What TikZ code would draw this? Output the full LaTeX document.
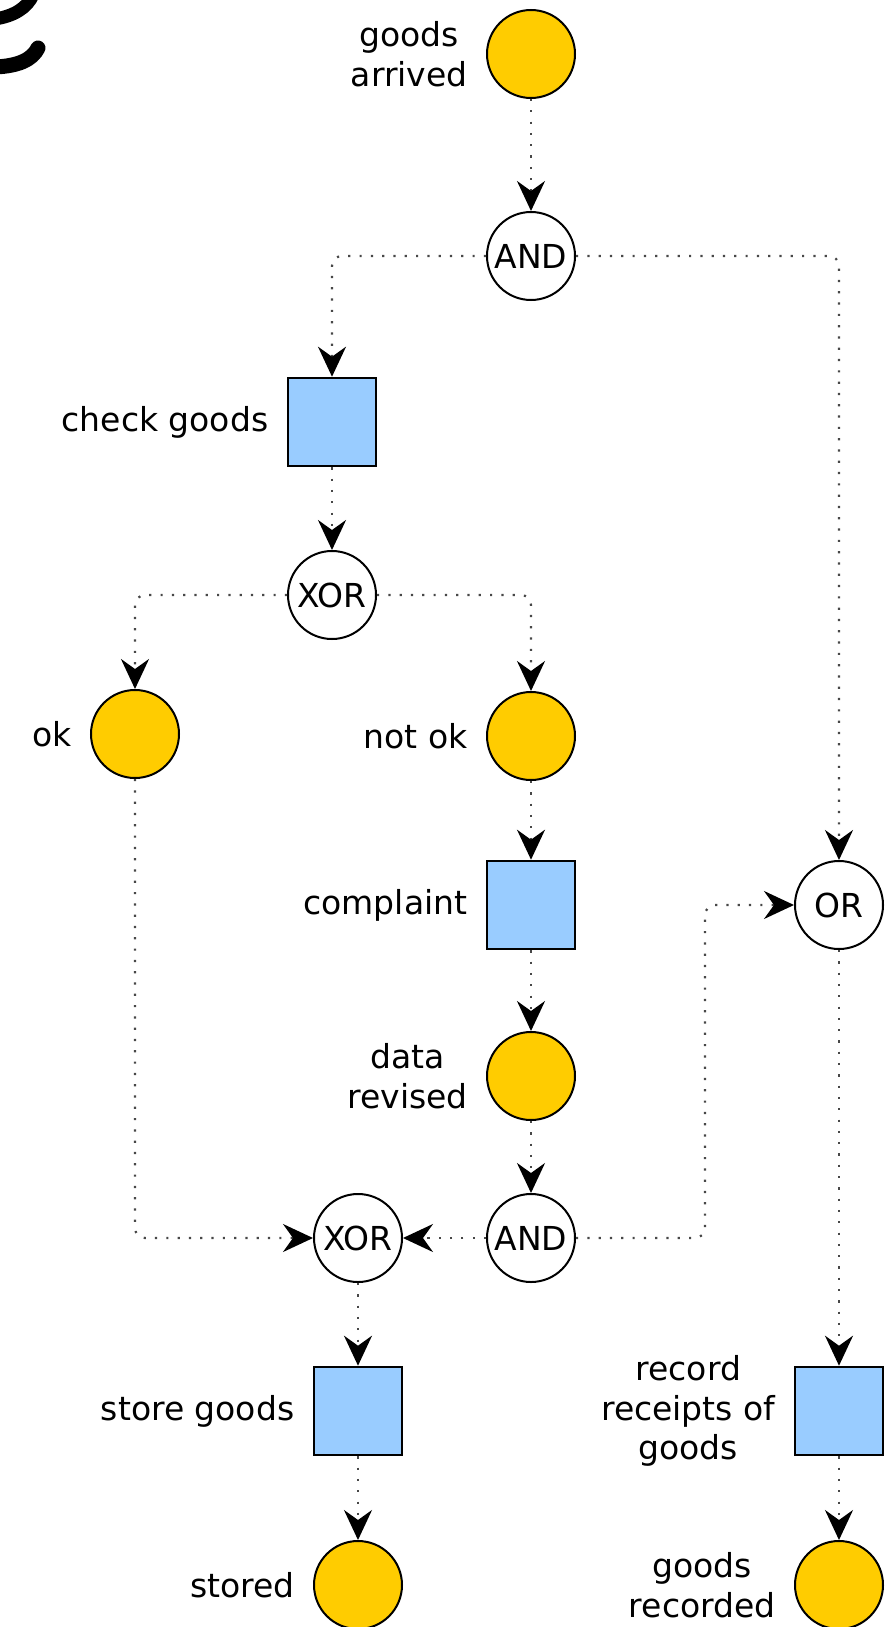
\documentclass[tikz,border=0pt]{standalone}
\usepackage{fontspec}
\setmainfont{DejaVu Sans}
\usepackage{xcolor}
\usetikzlibrary{positioning,arrows.meta}

\definecolor{placefill}{HTML}{FFCC00}
\definecolor{taskfill}{HTML}{99CCFF}

\begin{document}
\begin{tikzpicture}[x=0.5pt,y=-0.5pt,
  font=\fontsize{16.5pt}{19.8pt}\selectfont,
  place/.style={circle,draw=black,line width=1pt,fill=placefill,
                minimum size=44pt,inner sep=0pt},
  task/.style={rectangle,draw=black,line width=1.3pt,fill=taskfill,
               minimum size=44pt,inner sep=0pt},
  gate/.style={circle,draw=black,line width=1pt,fill=white,
               minimum size=44pt,inner sep=0pt},
  lab/.style={align=center,inner sep=0pt},
  flow/.style={draw=black!72,line width=1.1pt,dash pattern=on 1.1pt off 4.55pt,
               rounded corners=5pt,
               -{Stealth[length=15pt,width=14pt,inset=5pt,color=black]}}]

  \useasboundingbox (0,0) rectangle (895,1627);
  \clip (0,0) rectangle (895,1627);

  % ---------- pen stroke, cut at the corner ----------
  \draw[line width=6.5pt,line cap=round]
    (33,-5) .. controls (27,8) and (14,16) .. (-5,19);
  \draw[line width=7.5pt,line cap=round]
    (38,48) .. controls (32,60) and (18,66) .. (-5,67);

  % ---------- places ----------
  \node[place] (arrived)  at (531,54)   {};
  \node[place] (ok)       at (135,734)  {};
  \node[place] (notok)    at (531,736)  {};
  \node[place] (revised)  at (531,1076) {};
  \node[place] (stored)   at (358,1585) {};
  \node[place] (recorded) at (839,1585) {};

  % ---------- tasks ----------
  \node[task] (check)     at (332,422)  {};
  \node[task] (complaint) at (531,905)  {};
  \node[task] (store)     at (358,1411) {};
  \node[task] (record)    at (839,1411) {};

  % ---------- gates ----------
  \node[gate] (and1) at (531,256)  {AND};
  \node[gate] (xor1) at (332,595)  {XOR};
  \node[gate] (or)   at (839,905)  {OR};
  \node[gate] (and2) at (531,1238) {AND};
  \node[gate] (xor2) at (358,1238) {XOR};

  % ---------- labels ----------
  \node[lab,left=9pt of arrived]   (arrivedlab)   {goods\\arrived};
  \node[lab,left=9pt of check]     (checklab)     {check goods};
  \node[lab,left=9pt of ok]        (oklab)        {ok};
  \node[lab,left=9pt of notok]     (notoklab)     {not ok};
  \node[lab,left=9pt of complaint] (complaintlab) {complaint};
  \node[lab,left=9pt of revised]   (revisedlab)   {data\\revised};
  \node[lab,left=9pt of store]     (storelab)     {store goods};
  \node[lab,left=9pt of stored]    (storedlab)    {stored};
  \node[lab,left=9pt of record]    (recordlab)    {record\\receipts of\\goods};
  \node[lab,left=9pt of recorded]  (recordedlab)  {goods\\recorded};

  % ---------- flow ----------
  \coordinate (bend) at (705,905);

  \draw[flow] (arrived) -- (and1);
  \draw[flow] (and1) -| (check);
  \draw[flow] (and1) -| (or);
  \draw[flow] (check) -- (xor1);
  \draw[flow] (xor1) -| (ok);
  \draw[flow] (xor1) -| (notok);
  \draw[flow] (notok) -- (complaint);
  \draw[flow] (complaint) -- (revised);
  \draw[flow] (revised) -- (and2);
  \draw[flow] (ok) |- (xor2);
  \draw[flow] (and2) -- (xor2);
  \draw[flow] (and2) -| (bend) -- (or);
  \draw[flow] (xor2) -- (store);
  \draw[flow] (store) -- (stored);
  \draw[flow] (or) -- (record);
  \draw[flow] (record) -- (recorded);

\end{tikzpicture}
\end{document}
